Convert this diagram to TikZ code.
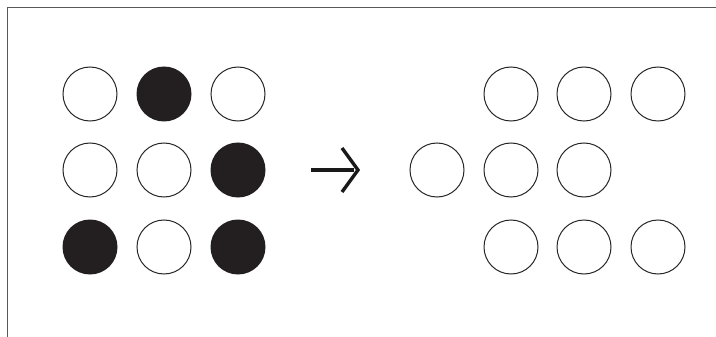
\documentclass[tikz,border=0pt]{standalone}
\begin{document}
\begin{tikzpicture}[x=1pt,y=-1pt,
  dotw/.style={circle,draw=black!85,line width=1pt,minimum size=54pt,inner sep=0pt},
  dotb/.style={circle,fill={rgb,255:red,35;green,31;blue,32},minimum size=55pt,inner sep=0pt},
  frameline/.style={draw=black!65,line width=1.6pt}]
\useasboundingbox (0,0) rectangle (716,337);
\coordinate (tl) at (7.5,7.5);
\coordinate (tr) at (716,7.5);
\coordinate (bl) at (7.5,337);
\draw[frameline] (tr) -- (tl) -- (bl);
% left grid
\node[dotw] (a11) at (90,94) {};
\node[dotb] (a12) at (164,94) {};
\node[dotw] (a13) at (238,94) {};
\node[dotw] (a21) at (90,170) {};
\node[dotw] (a22) at (164,170) {};
\node[dotb] (a23) at (238,170) {};
\node[dotb] (a31) at (90,247) {};
\node[dotw] (a32) at (164,247) {};
\node[dotb] (a33) at (238,247) {};
% arrow
\coordinate (s) at (311,170);
\coordinate (e) at (358,170);
\coordinate (h1) at (342,148);
\coordinate (h2) at (342,192);
\draw[line width=4.6pt,black!90] (s) -- (354,170);
\draw[line width=3.4pt,black!90,line join=miter] (h1) -- (e) -- (h2);
% right grid
\node[dotw] (b11) at (511,94) {};
\node[dotw] (b12) at (584,94) {};
\node[dotw] (b13) at (658,94) {};
\node[dotw] (b21) at (437,170) {};
\node[dotw] (b22) at (511,170) {};
\node[dotw] (b23) at (584,170) {};
\node[dotw] (b31) at (511,247) {};
\node[dotw] (b32) at (584,247) {};
\node[dotw] (b33) at (658,247) {};
\end{tikzpicture}
\end{document}
